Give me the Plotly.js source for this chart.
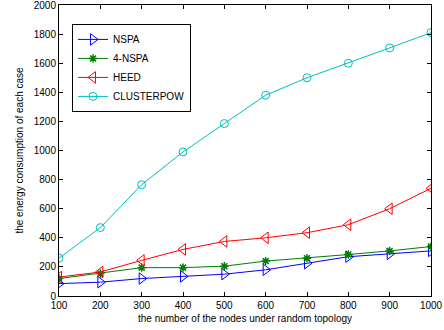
<!DOCTYPE html>
<html>
<head>
<meta charset="utf-8">
<script src="https://cdn.plot.ly/plotly-3.0.1.min.js"></script>
<style>html,body{margin:0;padding:0;background:#fff;}#chart{width:444px;height:330px;}</style>
</head>
<body>
<div id="chart"></div>
<script>
const nodes = [100, 200, 300, 400, 500, 600, 700, 800, 900, 1000];
const nspa = [85, 95, 120, 135, 150, 180, 225, 270, 290, 310];
const nspa4 = [120, 155, 195, 195, 205, 240, 260, 285, 310, 340];
const heed = [130, 165, 245, 320, 375, 400, 435, 490, 600, 740];
const clusterpow = [260, 470, 765, 990, 1185, 1380, 1500, 1600, 1705, 1810];

function tr(name, y, color, symbol, size) {
  return {x: nodes, y: y, name: name, type: 'scatter', mode: 'lines+markers',
    line: {color: color, width: 1},
    marker: {symbol: symbol, size: size, color: color, line: {color: color, width: 1}}};
}
const data = [
  tr('NSPA', nspa, '#0000ff', 'triangle-right-open', 10),
  tr('4-NSPA', nspa4, '#008000', 'asterisk-open', 7),
  tr('HEED', heed, '#ff0000', 'triangle-left-open', 10),
  tr('CLUSTERPOW', clusterpow, '#00bfbf', 'circle-open', 8)
];
data[1].marker.line.width = 1.5;
const axisCommon = {showgrid: false, zeroline: false, showline: true, linecolor: '#000', linewidth: 1,
  mirror: 'ticks', ticks: 'inside', ticklen: 4, tickcolor: '#000', tickfont: {size: 10, color: '#000'},
  ticklabeloverflow: 'allow'};
const layout = {
  width: 444, height: 330,
  margin: {l: 59, r: 13, t: 5, b: 34},
  paper_bgcolor: '#fff', plot_bgcolor: '#fff',
  font: {family: 'Liberation Sans, Arial, sans-serif', size: 10, color: '#000'},
  showlegend: true,
  legend: {x: 0.035, y: 0.935, xanchor: 'left', yanchor: 'top', bordercolor: '#000', borderwidth: 1,
    bgcolor: '#fff', font: {size: 10}, tracegroupgap: 0, itemwidth: 30},
  xaxis: Object.assign({}, axisCommon, {range: [100, 1000], tickvals: nodes,
    title: {text: 'the number of the nodes under random topology', font: {size: 10}, standoff: 4}}),
  yaxis: Object.assign({}, axisCommon, {range: [0, 2000], dtick: 200, tick0: 0,
    title: {text: 'the energy consumption of each case', font: {size: 10}, standoff: 8}})
};
Plotly.newPlot('chart', data, layout, {displayModeBar: false, staticPlot: true});
</script>
</body>
</html>
